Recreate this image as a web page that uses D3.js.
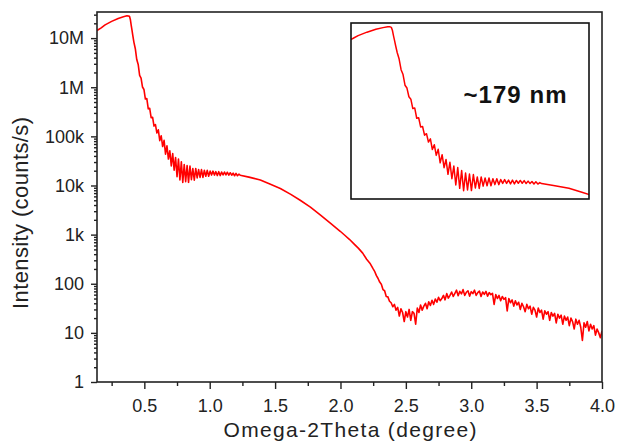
<!DOCTYPE html>
<html>
<head>
<meta charset="utf-8">
<script src="https://cdn.jsdelivr.net/npm/d3@7"></script>
<style>
  html, body { margin: 0; padding: 0; background: #fff; }
  svg { display: block; font-family: "Liberation Sans", Arial, sans-serif; }
</style>
</head>
<body>
<script>
// XRR scan, [angle (deg), intensity (counts/s)]
const edge = [
  [0.138, 1.43e7], [0.17, 1.62e7], [0.2, 1.86e7], [0.25, 2.19e7], [0.3, 2.51e7],
  [0.34, 2.72e7], [0.367, 2.84e7], [0.38, 2.82e7], [0.387, 2.75e7], [0.393, 2.4e7],
  [0.4, 1.8e7], [0.405, 1.48e7], [0.412, 1.12e7], [0.42, 8.3e6]
];

// Kiessig fringes (peak / trough pairs)
const fringes = [
  [0.431, 6.08e6], [0.442, 3.66e6], [0.453, 2.91e6], [0.464, 1.75e6], [0.475, 1.53e6],
  [0.486, 1.01e6], [0.497, 9.0e5], [0.508, 5.75e5], [0.519, 5.89e5], [0.530, 3.63e5],
  [0.541, 3.72e5], [0.552, 2.4e5], [0.563, 2.45e5], [0.574, 1.62e5], [0.585, 1.74e5],
  [0.596, 1.17e5], [0.607, 1.36e5], [0.618, 8.2e4], [0.629, 1.03e5], [0.640, 6.2e4],
  [0.651, 8.3e4], [0.662, 4.35e4], [0.673, 6.4e4], [0.684, 3.45e4], [0.695, 5.1e4],
  [0.706, 2.51e4], [0.717, 4.47e4], [0.728, 2.04e4], [0.739, 3.72e4], [0.750, 1.51e4],
  [0.761, 3.47e4], [0.772, 1.29e4], [0.783, 3.02e4], [0.794, 1.15e4], [0.805, 2.67e4],
  [0.816, 1.19e4], [0.827, 2.55e4], [0.838, 1.16e4], [0.849, 2.49e4], [0.860, 1.31e4],
  [0.871, 2.22e4], [0.882, 1.28e4], [0.893, 2.22e4], [0.904, 1.43e4], [0.915, 2.11e4],
  [0.926, 1.46e4], [0.937, 2.11e4], [0.948, 1.46e4], [0.959, 2.03e4], [0.970, 1.54e4],
  [0.981, 2.03e4], [0.992, 1.54e4], [1.003, 1.96e4], [1.014, 1.63e4], [1.025, 1.96e4],
  [1.036, 1.63e4], [1.047, 1.91e4], [1.058, 1.59e4], [1.069, 1.91e4], [1.080, 1.59e4],
  [1.091, 1.88e4], [1.102, 1.64e4], [1.113, 1.88e4], [1.124, 1.64e4], [1.135, 1.86e4],
  [1.146, 1.62e4], [1.157, 1.82e4], [1.168, 1.62e4], [1.179, 1.78e4], [1.190, 1.58e4],
  [1.201, 1.76e4], [1.212, 1.58e4], [1.223, 1.70e4]
];

const decay = [
  [1.233, 1.62e4], [1.3, 1.48e4], [1.387, 1.29e4], [1.46, 1.07e4], [1.54, 8.7e3],
  [1.62, 6.6e3], [1.692, 5.0e3], [1.77, 3.63e3], [1.845, 2.51e3], [1.92, 1.74e3],
  [1.998, 1.17e3], [2.035, 960], [2.07, 794], [2.105, 640], [2.138, 525],
  [2.17, 420], [2.2, 316], [2.225, 262], [2.25, 200]
];

// noisy diffuse tail
const tail = [
  [2.2625, 176], [2.275, 146], [2.2875, 128], [2.3, 108], [2.3125, 98], [2.325, 76],
  [2.3375, 72], [2.35, 55], [2.3625, 54], [2.375, 44], [2.3875, 41], [2.4, 34],
  [2.4125, 38], [2.425, 29], [2.4375, 33], [2.45, 22], [2.4625, 31], [2.475, 26],
  [2.4875, 17], [2.5, 27], [2.5125, 21], [2.525, 30], [2.5375, 18], [2.55, 27],
  [2.5625, 25], [2.575, 15], [2.5875, 32], [2.6, 26], [2.6125, 37], [2.625, 29],
  [2.6375, 35], [2.65, 40], [2.6625, 31], [2.675, 43], [2.6875, 36], [2.7, 46],
  [2.7125, 38], [2.725, 49], [2.7375, 42], [2.75, 53], [2.7625, 45], [2.775, 50],
  [2.7875, 58], [2.8, 47], [2.8125, 63], [2.825, 51], [2.8375, 58], [2.85, 68],
  [2.8625, 55], [2.875, 64], [2.8875, 74], [2.9, 57], [2.9125, 70], [2.925, 62],
  [2.9375, 76], [2.95, 58], [2.9625, 67], [2.975, 72], [2.9875, 56], [3.0, 69],
  [3.0125, 63], [3.025, 74], [3.0375, 58], [3.05, 66], [3.0625, 71], [3.075, 55],
  [3.0875, 68], [3.1, 61], [3.1125, 70], [3.125, 56], [3.1375, 66], [3.15, 60],
  [3.1625, 64], [3.175, 38], [3.1875, 60], [3.2, 50], [3.2125, 58], [3.225, 45],
  [3.2375, 55], [3.25, 48], [3.2625, 52], [3.275, 28], [3.2875, 50], [3.3, 41],
  [3.3125, 47], [3.325, 35], [3.3375, 45], [3.35, 37], [3.3625, 42], [3.375, 30],
  [3.3875, 40], [3.4, 34], [3.4125, 27], [3.425, 38], [3.4375, 31], [3.45, 35],
  [3.4625, 24], [3.475, 33], [3.4875, 29], [3.5, 21], [3.5125, 32], [3.525, 26],
  [3.5375, 29], [3.55, 19], [3.5625, 28], [3.575, 24], [3.5875, 27], [3.6, 18],
  [3.6125, 26], [3.625, 22], [3.6375, 25], [3.65, 16], [3.6625, 24], [3.675, 20],
  [3.6875, 23], [3.7, 15], [3.7125, 22], [3.725, 18], [3.7375, 21], [3.75, 14],
  [3.7625, 20], [3.775, 17], [3.7875, 12], [3.8, 19], [3.8125, 15], [3.825, 18],
  [3.8375, 13], [3.85, 7], [3.8625, 16], [3.875, 13], [3.8875, 17], [3.9, 11],
  [3.9125, 15], [3.925, 12], [3.9375, 14], [3.95, 9], [3.9625, 12], [3.975, 10],
  [3.9875, 8], [4.0, 11]
];

const xTicks = [0.5, 1.0, 1.5, 2.0, 2.5, 3.0, 3.5, 4.0];
const xMinor = [0.25, 0.75, 1.25, 1.75, 2.25, 2.75, 3.25, 3.75];
const yTicks = [1, 10, 100, 1e3, 1e4, 1e5, 1e6, 1e7];
const yLabels = ["1", "10", "100", "1k", "10k", "100k", "1M", "10M"];

const scan = edge.concat(fringes, decay, tail);

const width = 617, height = 443;
const plotLeft = 97, plotTop = 12, plotRight = 602, plotBottom = 382;

const svg = d3.select("body").append("svg")
  .attr("width", width)
  .attr("height", height);

const x = d3.scaleLinear().domain([0.138, 4.0]).range([plotLeft, plotRight]);
const y = d3.scaleLog().domain([1, 3.4e7]).range([plotBottom, plotTop]);

const line = d3.line()
  .x(d => x(d[0]))
  .y(d => y(d[1]));

const defs = svg.append("defs");
defs.append("clipPath").attr("id", "plotClip")
  .append("rect").attr("x", plotLeft).attr("y", plotTop)
  .attr("width", plotRight - plotLeft).attr("height", plotBottom - plotTop);

svg.append("path")
  .datum(scan)
  .attr("clip-path", "url(#plotClip)")
  .attr("d", line)
  .attr("fill", "none")
  .attr("stroke", "#ff0000")
  .attr("stroke-width", 1.6)
  .attr("stroke-linejoin", "round");

// frame
svg.append("rect")
  .attr("x", plotLeft).attr("y", plotTop)
  .attr("width", plotRight - plotLeft).attr("height", plotBottom - plotTop)
  .attr("fill", "none")
  .attr("stroke", "#222")
  .attr("stroke-width", 1.6);

// x axis
svg.append("g")
  .attr("transform", `translate(0,${plotBottom})`)
  .call(d3.axisBottom(x).tickValues(xTicks).tickFormat(d3.format(".1f"))
    .tickSize(7).tickPadding(10).tickSizeOuter(0));
svg.append("g")
  .attr("transform", `translate(0,${plotBottom})`)
  .call(d3.axisBottom(x).tickValues(xMinor).tickFormat("").tickSize(4).tickSizeOuter(0));

// y axis
svg.append("g")
  .attr("transform", `translate(${plotLeft},0)`)
  .call(d3.axisLeft(y).tickValues(yTicks).tickFormat((d, i) => yLabels[i])
    .tickSize(6).tickPadding(7).tickSizeOuter(0));
svg.append("g")
  .attr("transform", `translate(${plotLeft},0)`)
  .call(d3.axisLeft(y).tickValues(y.ticks().filter(v => Math.abs(Math.log10(v) % 1) > 1e-6))
    .tickFormat("").tickSize(3).tickSizeOuter(0));

svg.selectAll(".domain").remove();
svg.selectAll(".tick line").attr("stroke", "#222").attr("stroke-width", 1.4);
svg.selectAll(".tick text")
  .attr("fill", "#222")
  .style("font-size", "18px")
  .style("font-family", "'Liberation Sans', Arial, sans-serif");

// axis titles
svg.append("text")
  .attr("x", 350).attr("y", 437)
  .attr("text-anchor", "middle")
  .attr("textLength", 253)
  .attr("fill", "#222")
  .style("font-size", "21px")
  .text("Omega-2Theta (degree)");

svg.append("text")
  .attr("transform", "translate(28,213) rotate(-90)")
  .attr("text-anchor", "middle")
  .attr("textLength", 192)
  .attr("fill", "#222")
  .style("font-size", "22px")
  .text("Intensity (counts/s)");

// inset: same scan, zoomed on the fringes
const ix0 = 351, iy0 = 23, ix1 = 589, iy1 = 199;
const ix = d3.scaleLinear().domain([0.16, 1.5]).range([ix0, ix1]);
const iy = d3.scaleLog().domain([Math.pow(10, 3.89), Math.pow(10, 7.53)]).range([iy1, iy0]);

defs.append("clipPath").attr("id", "insetClip")
  .append("rect").attr("x", ix0).attr("y", iy0)
  .attr("width", ix1 - ix0).attr("height", iy1 - iy0);

svg.append("rect")
  .attr("x", ix0).attr("y", iy0)
  .attr("width", ix1 - ix0).attr("height", iy1 - iy0)
  .attr("fill", "#fff");

svg.append("path")
  .datum(scan)
  .attr("clip-path", "url(#insetClip)")
  .attr("d", d3.line().x(d => ix(d[0])).y(d => iy(d[1])))
  .attr("fill", "none")
  .attr("stroke", "#ff0000")
  .attr("stroke-width", 1.5)
  .attr("stroke-linejoin", "round");

svg.append("rect")
  .attr("x", ix0).attr("y", iy0)
  .attr("width", ix1 - ix0).attr("height", iy1 - iy0)
  .attr("fill", "none")
  .attr("stroke", "#111")
  .attr("stroke-width", 1.6);

svg.append("text")
  .attr("x", 515).attr("y", 103)
  .attr("text-anchor", "middle")
  .attr("textLength", 103)
  .attr("fill", "#111")
  .style("font-size", "24px")
  .style("font-weight", "bold")
  .text("~179 nm");
</script>
</body>
</html>
